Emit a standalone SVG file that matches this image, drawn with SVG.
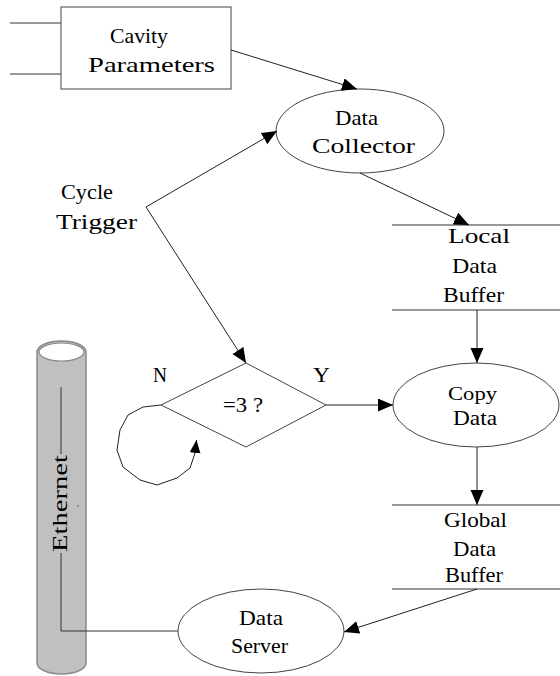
<svg xmlns="http://www.w3.org/2000/svg" width="560" height="676" viewBox="0 0 560 676" font-family="'Liberation Serif', 'Times New Roman', serif">
<defs>
<marker id="ah" markerUnits="userSpaceOnUse" markerWidth="16" markerHeight="14" refX="15" refY="6.5" orient="auto">
<path d="M0,0 L15,6.5 L0,13 Z" fill="#000"/>
</marker>
<marker id="ahs" markerUnits="userSpaceOnUse" markerWidth="14" markerHeight="12" refX="13" refY="5.5" orient="auto">
<path d="M0,0 L13,5.5 L0,11 Z" fill="#000"/>
</marker>
<style>
text{font-family:'Liberation Serif','Times New Roman',serif;font-size:21px;fill:#000;text-anchor:middle}
.n{fill:#fff;stroke:#444;stroke-width:1}
.c{fill:none;stroke:#222;stroke-width:1}
.b{stroke:#333;stroke-width:1}
</style>
</defs>

<g id="ethernet">
<path d="M37,352 L37,663 A24.5,11 0 0 0 86,663 L86,352 A24.5,11 0 0 0 37,352 Z" fill="#c0c0c0" stroke="#8a8a8a" stroke-width="1.5"/>
<ellipse cx="61.5" cy="352" rx="22.5" ry="9" fill="#fff" stroke="#8a8a8a" stroke-width="1.2"/>
<line x1="61" y1="387" x2="61" y2="454" class="b"/>
<line x1="61" y1="553" x2="61" y2="631" class="b"/>
<text transform="translate(67,503.5) rotate(-90)" x="0" y="0" textLength="97" lengthAdjust="spacingAndGlyphs">Ethernet</text>
<circle cx="78" cy="506" r="0.7" fill="#333"/>
</g>

<g id="cavity">
<line x1="10" y1="23" x2="61" y2="23" class="b"/>
<line x1="10" y1="74" x2="61" y2="74" class="b"/>
<rect x="61" y="7" width="170" height="82" class="n"/>
<text x="139" y="43" textLength="58" lengthAdjust="spacingAndGlyphs">Cavity</text>
<text x="151.5" y="72" textLength="127" lengthAdjust="spacingAndGlyphs">Parameters</text>
</g>

<g id="collector">
<ellipse cx="360" cy="131" rx="84" ry="42" class="n"/>
<text x="356.5" y="125" textLength="43" lengthAdjust="spacingAndGlyphs">Data</text>
<text x="363.5" y="153" textLength="103" lengthAdjust="spacingAndGlyphs">Collector</text>
</g>

<g id="trigger">
<text x="87" y="199" textLength="52" lengthAdjust="spacingAndGlyphs">Cycle</text>
<text x="96.5" y="229" textLength="81" lengthAdjust="spacingAndGlyphs">Trigger</text>
</g>

<g id="localbuf">
<line x1="392" y1="225" x2="560" y2="225" class="b"/>
<line x1="392" y1="310" x2="560" y2="310" class="b"/>
<text x="479" y="243" textLength="62" lengthAdjust="spacingAndGlyphs">Local</text>
<text x="474.5" y="273" textLength="45" lengthAdjust="spacingAndGlyphs">Data</text>
<text x="473.5" y="302" textLength="61" lengthAdjust="spacingAndGlyphs">Buffer</text>
</g>

<g id="decision">
<polygon points="246,363 326,405 246,447 161,405" class="n"/>
<text x="243" y="412" textLength="40" lengthAdjust="spacingAndGlyphs">=3 ?</text>
<text x="160" y="382" textLength="14" lengthAdjust="spacingAndGlyphs">N</text>
<text x="321.5" y="382" textLength="17" lengthAdjust="spacingAndGlyphs">Y</text>
</g>

<g id="copy">
<ellipse cx="476" cy="405" rx="83" ry="42" class="n"/>
<text x="472.5" y="400" style="font-size:18px" textLength="49" lengthAdjust="spacingAndGlyphs">Copy</text>
<text x="475" y="425" textLength="44" lengthAdjust="spacingAndGlyphs">Data</text>
</g>

<g id="globalbuf">
<line x1="392" y1="505" x2="560" y2="505" class="b"/>
<line x1="392" y1="589" x2="560" y2="589" class="b"/>
<text x="475.5" y="527" textLength="63" lengthAdjust="spacingAndGlyphs">Global</text>
<text x="474.5" y="556" textLength="43" lengthAdjust="spacingAndGlyphs">Data</text>
<text x="474" y="582" textLength="58" lengthAdjust="spacingAndGlyphs">Buffer</text>
</g>

<g id="server">
<ellipse cx="261" cy="631" rx="83" ry="42" class="n"/>
<text x="261" y="625" textLength="44" lengthAdjust="spacingAndGlyphs">Data</text>
<text x="259.5" y="653" textLength="57" lengthAdjust="spacingAndGlyphs">Server</text>
</g>

<g id="connectors">
<line x1="231" y1="50" x2="357" y2="89" class="c" marker-end="url(#ah)"/>
<line x1="146" y1="207" x2="277" y2="131" class="c" marker-end="url(#ah)"/>
<line x1="146" y1="207" x2="246" y2="363" class="c" marker-end="url(#ah)"/>
<line x1="360" y1="173" x2="469" y2="225" class="c" marker-end="url(#ah)"/>
<line x1="477" y1="310" x2="477" y2="363" class="c" marker-end="url(#ah)"/>
<line x1="326" y1="405" x2="393" y2="405" class="c" marker-end="url(#ah)"/>
<line x1="477" y1="447" x2="477" y2="505" class="c" marker-end="url(#ah)"/>
<line x1="477" y1="589" x2="344" y2="632" class="c" marker-end="url(#ah)"/>
<line x1="61" y1="631" x2="178" y2="631" class="b"/>
<path d="M161,405 L143,407 L128,415 L120,430 L117,450 L123,467 L140,480 L157,485 L177,478 L190,468 L195,453 L196.5,440" class="c" marker-end="url(#ahs)"/>
</g>
</svg>
